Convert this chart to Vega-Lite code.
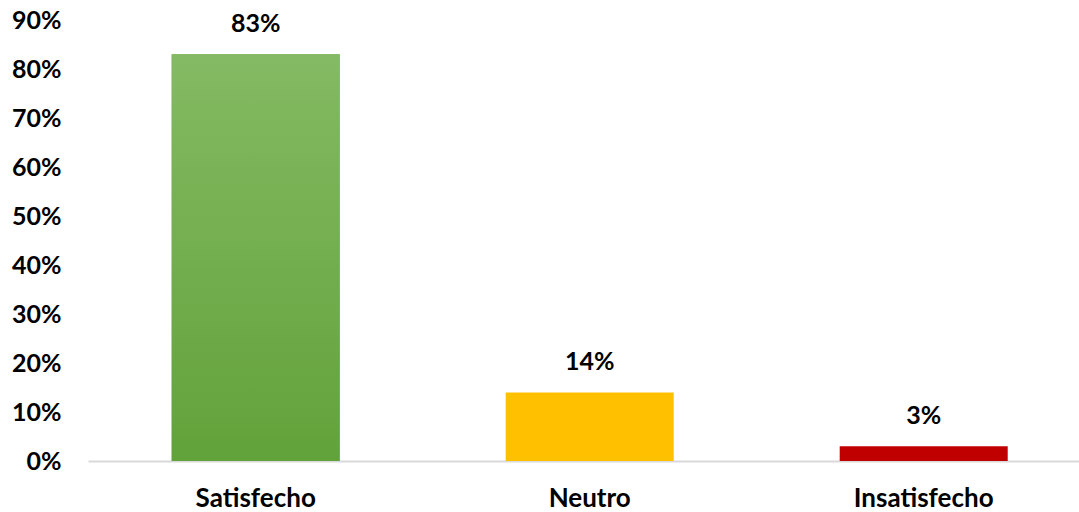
{
  "$schema": "https://vega.github.io/schema/vega-lite/v6.json",
  "autosize": {"type": "none"},
  "padding": {"left": 88, "top": 20, "right": 0, "bottom": 51},
  "width": 991,
  "height": 441,
  "background": "white",
  "config": {"view": {"stroke": null}, "font": "Lato"},
  "data": {"values": [
    {"cat": "Satisfecho", "pct": 0.83},
    {"cat": "Neutro", "pct": 0.14},
    {"cat": "Insatisfecho", "pct": 0.03}
  ]},
  "encoding": {
    "x": {"field": "cat", "type": "nominal", "sort": null,
      "scale": {"paddingInner": 0.497, "paddingOuter": 0.232, "align": 0.54},
      "axis": {"title": null, "labelAngle": 0, "labelFont": "Lato", "labelFontWeight": "bold", "labelFontSize": 26, "labelColor": "#000000", "labelPadding": 24, "ticks": false, "domainColor": "#D9D9D9", "domainWidth": 2}},
    "y": {"field": "pct", "type": "quantitative",
      "scale": {"domain": [0, 0.9], "nice": false},
      "axis": {"title": null, "format": ".0%", "values": [0, 0.1, 0.2, 0.3, 0.4, 0.5, 0.6, 0.7, 0.8, 0.9], "grid": false, "domain": false, "ticks": false, "labelFont": "Lato", "labelFontWeight": "bold", "labelFontSize": 25, "labelColor": "#000000", "labelPadding": 27}}
  },
  "layer": [
    {
      "mark": {"type": "bar"},
      "encoding": {
        "color": {"field": "cat", "type": "nominal", "legend": null,
          "scale": {"domain": ["Satisfecho", "Neutro", "Insatisfecho"], "range": ["#72AD4C", "#FFC000", "#C00000"]}}
      }
    },
    {
      "transform": [{"filter": "datum.cat === 'Satisfecho'"}],
      "mark": {"type": "bar", "color": {"gradient": "linear", "x1": 0, "y1": 0, "x2": 0, "y2": 1, "stops": [{"offset": 0, "color": "#84BA63"}, {"offset": 1, "color": "#62A23A"}]}}
    },
    {
      "mark": {"type": "text", "dy": -30, "font": "Lato", "fontWeight": "bold", "fontSize": 25, "color": "#000000"},
      "encoding": {"text": {"field": "pct", "type": "quantitative", "format": ".0%"}}
    }
  ]
}
